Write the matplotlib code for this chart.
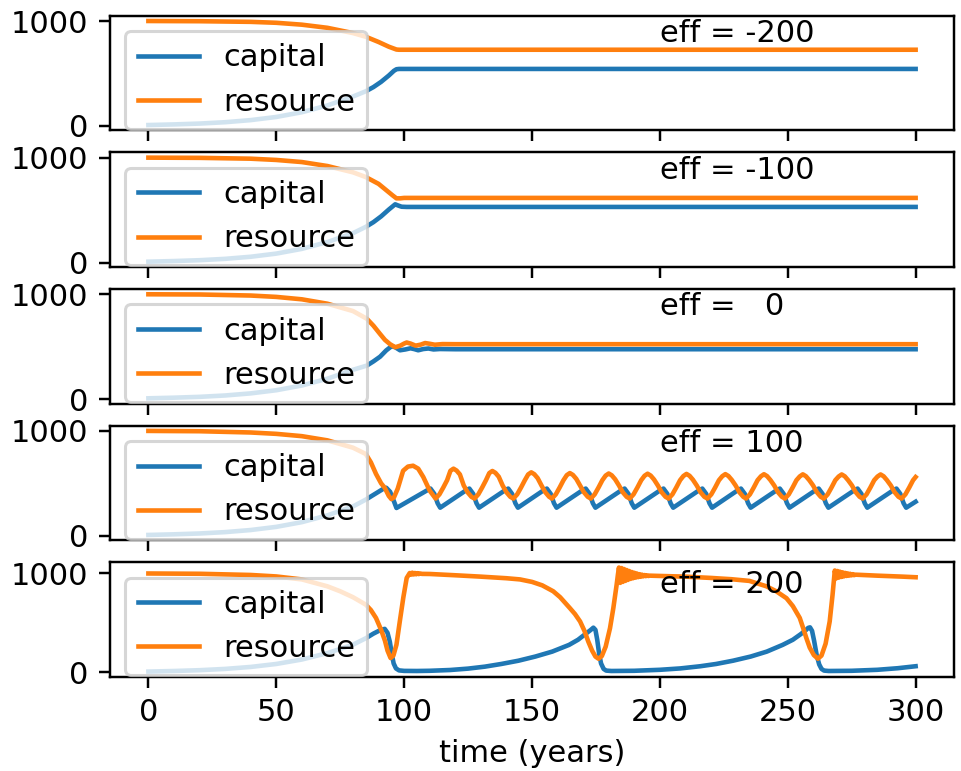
import matplotlib
matplotlib.use('Agg')
import matplotlib.pyplot as plt

effs = [-200, -100, 0, 100, 200]

# start-up phase, same in every run while the resource is still plentiful
t_start = [0, 10, 20, 30, 40, 50, 60, 70, 80]
cap_start = [8, 14, 22, 35, 55, 85, 130, 195, 280]

# eff = -200
t_cap1 = [85, 88, 91, 94, 96, 97, 98, 300]
cap1 = [330, 370, 420, 480, 525, 540, 543, 543]
t_res1 = [0, 20, 40, 50, 60, 70, 80, 85, 90, 94, 97, 98, 300]
res1 = [1000, 998, 992, 983, 965, 935, 885, 850, 800, 755, 728, 726, 726]

# eff = -100
t_cap2 = [85, 88, 91, 94, 96.5, 97.5, 99, 101, 300]
cap2 = [340, 385, 440, 505, 555, 545, 532, 530, 530]
t_res2 = [0, 20, 40, 50, 60, 70, 80, 85, 90, 93, 95.5, 97, 98.5, 100, 300]
res2 = [1000, 998, 990, 978, 958, 920, 860, 815, 750, 690, 640, 612, 612, 616, 616]

# eff = 0
t_cap3 = [85.4, 88, 90.6, 93, 95.1, 96.5, 98.4, 100.5, 102.5, 104, 105.5, 107.5,
          109.5, 111.5, 114, 120, 300]
cap3 = [320, 360, 405, 465, 505, 495, 466, 474, 485, 477, 466, 478,
        483, 474, 478, 476, 476]
t_res3 = [0, 20, 40, 50, 60, 70, 80, 85.4, 88, 90.6, 92.5, 94.5, 96.5, 98.5, 100,
          101, 102.5, 104.5, 106.5, 108.2, 110, 112, 115, 120, 300]
res3 = [1000, 998, 988, 975, 952, 910, 840, 767, 700, 621, 565, 524, 495, 510, 530,
        540, 530, 510, 520, 535, 528, 519, 525, 524, 524]

# eff = 100
t_cap4 = [85, 90, 92, 93, 94.5, 96, 97,
          109.1, 110.3, 111.8, 113.1, 114.1,
          124.3, 125.5, 127.0, 128.3, 129.3,
          139.5, 140.7, 142.2, 143.5, 144.5,
          154.6, 155.8, 157.3, 158.6, 159.6,
          169.8, 171.0, 172.5, 173.8, 174.8,
          185.0, 186.2, 187.7, 189.0, 190.0,
          200.2, 201.4, 202.9, 204.2, 205.2,
          215.4, 216.6, 218.1, 219.4, 220.4,
          230.5, 231.7, 233.2, 234.5, 235.5,
          245.7, 246.9, 248.4, 249.7, 250.7,
          260.9, 262.1, 263.6, 264.9, 265.9,
          276.1, 277.3, 278.8, 280.1, 281.1,
          291.3, 292.5, 294.0, 295.3, 296.3,
          300]
cap4 = [345, 420, 450, 458, 420, 330, 265,
        435, 450, 400, 310, 268,
        435, 450, 400, 310, 268,
        435, 450, 400, 310, 268,
        435, 450, 400, 310, 268,
        435, 450, 400, 310, 268,
        435, 450, 400, 310, 268,
        435, 450, 400, 310, 268,
        435, 450, 400, 310, 268,
        435, 450, 400, 310, 268,
        435, 450, 400, 310, 268,
        435, 450, 400, 310, 268,
        435, 450, 400, 310, 268,
        435, 450, 400, 310, 268,
        325]
t_res4 = [0, 20, 40, 50, 60, 70, 80, 85, 87, 89, 91, 92.4, 94, 95, 96, 97.5, 99.6,
          101.5, 103.5, 105.5, 107.5, 110,
          112.3, 113.8, 115.3, 116.8, 118.1, 119.3, 120.5, 121.8, 123.3, 124.8, 126.3,
          127.5, 129.0, 130.5, 132.0, 133.3, 134.5, 135.7, 137.0, 138.5, 140.0, 141.5,
          142.7, 144.2, 145.7, 147.2, 148.5, 149.7, 150.9, 152.2, 153.7, 155.2, 156.7,
          157.8, 159.3, 160.8, 162.3, 163.6, 164.8, 166.0, 167.3, 168.8, 170.3, 171.8,
          173.0, 174.5, 176.0, 177.5, 178.8, 180.0, 181.2, 182.5, 184.0, 185.5, 187.0,
          188.2, 189.7, 191.2, 192.7, 194.0, 195.2, 196.4, 197.7, 199.2, 200.7, 202.2,
          203.4, 204.9, 206.4, 207.9, 209.2, 210.4, 211.6, 212.9, 214.4, 215.9, 217.4,
          218.6, 220.1, 221.6, 223.1, 224.4, 225.6, 226.8, 228.1, 229.6, 231.1, 232.6,
          233.7, 235.2, 236.7, 238.2, 239.5, 240.7, 241.9, 243.2, 244.7, 246.2, 247.7,
          248.9, 250.4, 251.9, 253.4, 254.7, 255.9, 257.1, 258.4, 259.9, 261.4, 262.9,
          264.1, 265.6, 267.1, 268.6, 269.9, 271.1, 272.3, 273.6, 275.1, 276.6, 278.1,
          279.3, 280.8, 282.3, 283.8, 285.1, 286.3, 287.5, 288.8, 290.3, 291.8, 293.3,
          294.5, 296.0, 297.5, 299.0, 300]
res4 = [1000, 997, 985, 972, 950, 910, 840, 780, 700, 590, 500, 458, 380, 350, 365, 450, 620,
        660, 668, 640, 560, 430,
        355, 395, 460, 530, 620, 640, 622, 585, 480, 415, 372,
        355, 395, 460, 530, 598, 618, 600, 563, 480, 415, 372,
        355, 395, 460, 530, 585, 605, 587, 550, 480, 415, 372,
        355, 395, 460, 530, 578, 598, 580, 543, 480, 415, 372,
        355, 395, 460, 530, 574, 594, 576, 539, 480, 415, 372,
        355, 395, 460, 530, 572, 592, 574, 537, 480, 415, 372,
        355, 395, 460, 530, 570, 590, 572, 535, 480, 415, 372,
        355, 395, 460, 530, 568, 588, 570, 533, 480, 415, 372,
        355, 395, 460, 530, 567, 587, 569, 532, 480, 415, 372,
        355, 395, 460, 530, 566, 586, 568, 531, 480, 415, 372,
        355, 395, 460, 530, 565, 585, 567, 530, 480, 415, 372,
        355, 395, 460, 530, 565, 585, 567, 530, 480, 415, 372,
        355, 395, 460, 530, 560]

# eff = 200
t_cap5 = [85, 88, 90.5, 92.4, 93.5, 94.4, 95.2, 95.9, 96.8, 98,
          100, 105, 110, 118, 125, 131.6, 138, 144.7, 151.3, 157.9,
          164.5, 168, 171, 173, 174, 174.8, 175.5, 176.3, 177, 178,
          179, 181, 190, 200, 208, 215.8, 222, 228.6, 235.5, 241.8,
          248, 252, 255, 257, 258, 258.7, 259.5, 260.3, 261.3, 262.3,
          263.2, 264.2, 266, 275, 285, 293, 300]
cap5 = [345, 392, 425, 440, 400, 310, 180, 90, 40, 20,
        15, 14, 16, 24, 38, 58, 85, 118, 160, 210,
        278, 330, 390, 430, 452, 430, 330, 180, 90, 35,
        18, 14, 16, 26, 40, 62, 85, 118, 160, 210,
        278, 330, 385, 425, 450, 455, 420, 320, 176, 80,
        35, 18, 14, 16, 26, 42, 62]
t_res5 = [0, 20, 40, 50, 60, 70, 75, 80, 85, 87, 89, 91, 92.5, 93.5, 94.7, 95.8,
          97, 98.3, 99.7, 101, 102.2,
          102.7, 103.2, 103.7, 104.2, 104.7, 105.2, 105.7, 106.2, 107,
          110, 120, 130, 140, 145.3, 150, 154, 158.3, 161, 164.8, 166.8, 168.8,
          170.5, 172, 173.5, 174.8, 176, 177.3, 178.8, 180.5, 181.8, 183.1, 183.6,
          184.0, 184.5, 185.0, 185.5, 186.0, 186.5, 187.0, 187.5, 188.0, 188.5,
          189.0, 189.5, 190.0, 190.5, 191.0, 191.5, 192.0, 192.5, 193.0, 193.5,
          194.0, 194.5, 195.0, 195.5, 196.0,
          200, 210, 220, 228, 235, 241.7, 245.5, 249.5, 252, 254.7, 256, 257.3,
          258.6, 260.2, 261.8, 263.2, 264.8, 266.4, 267.5,
          268.4, 268.9, 269.4, 269.9, 270.4, 270.9, 271.4, 271.9, 272.4, 272.9,
          273.4, 273.9, 274.4, 274.9, 275.4, 275.9, 276.5,
          285, 295, 300]
res5 = [1000, 997, 985, 970, 940, 870, 820, 760, 685, 630, 550, 430, 320, 220, 145, 170,
        280, 515, 760, 955, 1005,
        988, 1008, 990, 1005, 992, 1003, 994, 1000, 996,
        995, 982, 968, 952, 940, 915, 880, 820, 760, 650, 590, 515,
        420, 312, 220, 160, 138, 165, 260, 447, 650, 888, 990,
        1060, 905, 1055, 915, 1045, 925, 1035, 935, 1025, 945,
        1015, 952, 1007, 958, 1000, 963, 993, 967, 988, 971,
        984, 973, 981, 975, 978,
        975, 968, 955, 942, 925, 870, 820, 750, 670, 550, 450, 345,
        250, 175, 138, 170, 290, 515, 780,
        1030, 950, 1025, 958, 1018, 965, 1012, 970, 1006, 975,
        1001, 978, 997, 981, 993, 983, 988,
        978, 968, 962]

runs = [
    (t_cap1, cap1, t_res1, res1),
    (t_cap2, cap2, t_res2, res2),
    (t_cap3, cap3, t_res3, res3),
    (t_cap4, cap4, t_res4, res4),
    (t_cap5, cap5, t_res5, res5),
]

fig, axes = plt.subplots(5, 1, sharex=True, figsize=(961/220, 771/220), dpi=220)
fig.subplots_adjust(left=0.1145, right=0.9927, bottom=0.1222, top=0.9795, hspace=0.194)

for ax, eff, (tc, cap, tr, res) in zip(axes, effs, runs):
    ax.plot(t_start + tc, cap_start + cap, label='capital')
    ax.plot(tr, res, label='resource')
    ax.set_yticks([0, 1000])
    ax.legend(loc='upper left')
    ax.text(200, 800, 'eff = %3d' % eff)

axes[-1].set_xlabel('time (years)')

plt.savefig('out.png', dpi=220)
